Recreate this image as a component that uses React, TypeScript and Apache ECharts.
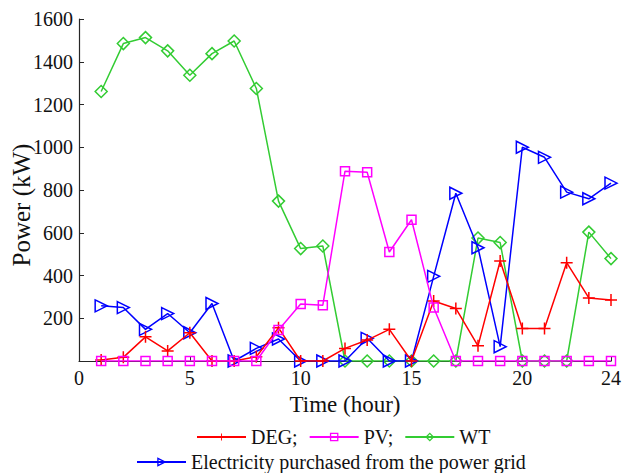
import React, { useEffect, useRef } from "react";
import * as echarts from "echarts";

const hours = [1, 2, 3, 4, 5, 6, 7, 8, 9, 10, 11, 12, 13, 14, 15, 16, 17, 18, 19, 20, 21, 22, 23, 24];
const degValues = [5, 17, 113, 47, 132, 0, 0, 20, 155, 0, 0, 59, 98, 148, 0, 281, 246, 71, 468, 152, 152, 460, 295, 285];
const pvValues = [0, 0, 0, 0, 0, 0, 0, 0, 145, 267, 261, 888, 883, 510, 661, 250, 0, 0, 0, 0, 0, 0, 0, 0];
const wtValues = [1261, 1485, 1513, 1451, 1337, 1438, 1497, 1275, 748, 526, 538, 0, 0, 0, 0, 0, 0, 575, 554, 0, 0, 0, 603, 479];
const gridValues = [258, 250, 148, 222, 132, 269, 0, 59, 103, 0, 0, 0, 106, 0, 0, 396, 785, 530, 67, 1000, 953, 790, 759, 832];

const seriesNames = ["DEG;", "PV;", "WT", "Electricity purchased from the power grid"];
const seriesColors = ["#ff0000", "#ff00ff", "#33cc33", "#0000ff"];
const xTitle = "Time (hour)";
const yTitle = "Power (kW)";

const FONT = "'Liberation Serif', 'Times New Roman', serif";
const TXT = "#111";
const AX = "#262626";

const plusPath = "path://M10.5,0 L13.5,0 L13.5,10.5 L24,10.5 L24,13.5 L13.5,13.5 L13.5,24 L10.5,24 L10.5,13.5 L0,13.5 L0,10.5 L10.5,10.5 Z";
const squarePath = "path://M0,0 L10,0 L10,10 L0,10 Z";
const diamondPath = "path://M6,0 L12,6 L6,12 L0,6 Z";
const triPath = "path://M0,0 L12,6 L0,12 Z";

function pairs(vals: number[]) {
  return hours.map((h, i) => [h, vals[i]]);
}

function legendItem(i: number) {
  if (i === 0) return { name: seriesNames[i] };
  return {
    name: seriesNames[i],
    itemStyle: { color: "rgba(255,255,255,0)", borderColor: seriesColors[i], borderWidth: 1.3 },
  };
}

export default function App() {
  const ref = useRef<HTMLDivElement>(null);
  useEffect(() => {
    if (!ref.current) return;
    const chart = echarts.init(ref.current, undefined, { renderer: "svg" });
    const mk = (
      i: number,
      vals: number[],
      symbol: string,
      size: number,
      z: number,
      filled: boolean
    ) => {
      const color = seriesColors[i];
      return {
        name: seriesNames[i],
        type: "line",
        data: pairs(vals),
        symbol,
        symbolSize: size,
        showAllSymbol: true,
        z,
        color,
        lineStyle: { color, width: 1.5 },
        itemStyle: filled
          ? { color, borderWidth: 0 }
          : { color: "rgba(255,255,255,0)", borderColor: color, borderWidth: 1.5 },
        emphasis: { disabled: true },
      };
    };
    const legendText = { fontSize: 20, fontFamily: FONT, color: TXT, lineHeight: 20 };
    chart.setOption({
      animation: false,
      backgroundColor: "#fff",
      grid: { left: 79, right: 10, top: 19, bottom: 112, containLabel: false },
      xAxis: {
        type: "value",
        min: 0,
        max: 24,
        interval: 5,
        name: xTitle,
        nameLocation: "middle",
        nameGap: 29,
        nameTextStyle: { fontSize: 23, fontFamily: FONT, color: TXT },
        axisLine: { show: true, lineStyle: { color: AX, width: 1.2 } },
        axisTick: { show: true, inside: true, length: 5, lineStyle: { color: AX } },
        axisLabel: { fontSize: 20, fontFamily: FONT, color: TXT, margin: 7 },
        splitLine: { show: false },
      },
      yAxis: {
        type: "value",
        min: 0,
        max: 1600,
        interval: 200,
        axisLine: { show: true, lineStyle: { color: AX, width: 1.2 } },
        axisTick: { show: true, inside: true, length: 5, lineStyle: { color: AX } },
        axisLabel: {
          fontSize: 20,
          fontFamily: FONT,
          color: TXT,
          margin: 6,
          formatter: (v: number) => (v === 0 ? "" : String(v)),
        },
        splitLine: { show: false },
      },
      legend: [
        {
          data: [0, 1, 2].map(legendItem),
          left: 196,
          top: 427,
          padding: 0,
          itemWidth: 49,
          itemHeight: 9,
          itemGap: 11,
          textStyle: legendText,
        },
        {
          data: [3].map(legendItem),
          left: 136,
          top: 452,
          padding: 0,
          itemWidth: 49,
          itemHeight: 9,
          itemGap: 11,
          textStyle: legendText,
        },
      ],
      graphic: [
        {
          type: "text",
          x: 21,
          y: 205,
          rotation: Math.PI / 2,
          style: {
            text: yTitle,
            fontSize: 25,
            fontFamily: FONT,
            fill: TXT,
            align: "center",
            verticalAlign: "middle",
          },
        },
      ],
      series: [
        mk(0, degValues, plusPath, 12, 4, true),
        mk(1, pvValues, squarePath, 9, 5, false),
        mk(2, wtValues, diamondPath, 12, 2, false),
        mk(3, gridValues, triPath, 12, 3, false),
      ],
    });
    return () => chart.dispose();
  }, []);
  return (
    <div
      ref={ref}
      style={{ position: "fixed", left: 0, top: 0, width: 624, height: 473, background: "#fff" }}
    />
  );
}
